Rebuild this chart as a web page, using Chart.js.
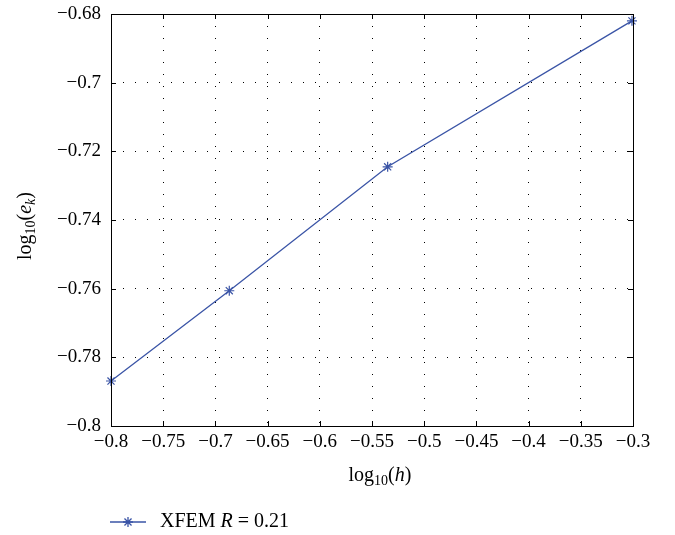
<!DOCTYPE html>
<html>
<head>
<meta charset="utf-8">
<script src="https://cdn.jsdelivr.net/npm/chart.js@4/dist/chart.umd.min.js"></script>
<style>
  html, body { margin:0; padding:0; background:#fff; }
  #wrap { width:675px; height:535px; }
</style>
</head>
<body>
<div id="wrap"><canvas id="myChart" width="675" height="535"></canvas></div>
<script>
// data
const logH = [-0.8, -0.6867, -0.535, -0.301];
const logE = [-0.7869, -0.7606, -0.7245, -0.682];
const xTicks = [-0.8, -0.75, -0.7, -0.65, -0.6, -0.55, -0.5, -0.45, -0.4, -0.35, -0.3];
const yTicks = [-0.8, -0.78, -0.76, -0.74, -0.72, -0.7, -0.68];
const seriesName = ['XFEM ', 'R', ' = 0.21'];

const blue = 'rgb(58,84,166)';
const serif = "'Liberation Serif', 'DejaVu Serif', serif";
const fmt = v => String(v).replace('-', '\u2212');

// draw mixed font text pieces: [text, italic, sub]
function drawPieces(ctx, pieces, x, y, align) {
    const big = 20, small = 14;
    let w = 0;
    pieces.forEach(p => {
        ctx.font = (p[1] ? 'italic ' : '') + (p[2] ? small : big) + 'px ' + serif;
        p.w = ctx.measureText(p[0]).width; w += p.w;
    });
    let cx = align == 'center' ? x - w/2 : x;
    pieces.forEach(p => {
        ctx.font = (p[1] ? 'italic ' : '') + (p[2] ? small : big) + 'px ' + serif;
        ctx.fillText(p[0], cx, p[2] ? y + 5 : y);
        cx += p.w;
    });
}

const framePlugin = {
    id: 'frame',
    afterDraw(chart) {
        const {ctx, chartArea: a, scales} = chart;
        ctx.save();
        ctx.strokeStyle = '#000';
        ctx.lineWidth = 1;
        ctx.strokeRect(Math.round(a.left)+0.5, Math.round(a.top)+0.5, Math.round(a.right-a.left), Math.round(a.bottom-a.top));
        // inward ticks
        ctx.beginPath();
        xTicks.forEach(v => {
            const px = Math.round(scales.x.getPixelForValue(v)) + 0.5;
            ctx.moveTo(px, a.bottom); ctx.lineTo(px, a.bottom - 5);
            ctx.moveTo(px, a.top); ctx.lineTo(px, a.top + 5);
        });
        yTicks.forEach(v => {
            const py = Math.round(scales.y.getPixelForValue(v)) + 0.5;
            ctx.moveTo(a.left, py); ctx.lineTo(a.left + 5, py);
            ctx.moveTo(a.right, py); ctx.lineTo(a.right - 5, py);
        });
        ctx.stroke();

        // axis titles
        ctx.fillStyle = '#000';
        ctx.textBaseline = 'middle';
        ctx.textAlign = 'left';
        drawPieces(ctx, [['log',0,0],['10',0,1],['(',0,0],['h',1,0],[')',0,0]], 380, 476, 'center');
        ctx.save();
        ctx.translate(26, 226);
        ctx.rotate(-Math.PI/2);
        drawPieces(ctx, [['log',0,0],['10',0,1],['(',0,0],['e',1,0],['k',1,1],[')',0,0]], 0, 0, 'center');
        ctx.restore();

        // legend
        ctx.strokeStyle = blue;
        ctx.lineWidth = 1.3;
        ctx.beginPath();
        ctx.moveTo(110, 522); ctx.lineTo(146, 522);
        ctx.stroke();
        Chart.helpers.drawPoint(ctx, {pointStyle:'star', radius:5, borderWidth:1.2}, 128, 522);
        ctx.fillStyle = '#000';
        drawPieces(ctx, [[seriesName[0],0,0],[seriesName[1],1,0],[seriesName[2],0,0]], 160, 522, 'left');
        ctx.restore();
    }
};

const ctx = document.getElementById('myChart').getContext('2d');
const myChart = new Chart(ctx, {
    type: 'line',
    data: {
        datasets: [{
            label: seriesName.join(''),
            data: logH.map((v, i) => ({x: v, y: logE[i]})),
            borderColor: blue,
            backgroundColor: blue,
            borderWidth: 1.3,
            pointStyle: 'star',
            pointRadius: 5,
            pointBorderWidth: 1.2,
            tension: 0,
            clip: false
        }]
    },
    options: {
        responsive: false,
        animation: false,
        layout: { padding: { top: 14, right: 42, left: 0, bottom: 0 } },
        plugins: { legend: { display: false }, tooltip: { enabled: false } },
        scales: {
            x: {
                type: 'linear', min: -0.8, max: -0.3,
                afterBuildTicks: s => { s.ticks = xTicks.map(v => ({value: v})); },
                afterFit: s => { s.height = 109; s.paddingLeft = 0; s.paddingRight = 0; },
                ticks: { callback: v => fmt(v), color: '#000', padding: 5, maxRotation: 0, autoSkip: false,
                         font: { family: serif, size: 19 } },
                grid: { color: '#000', lineWidth: 1, drawTicks: false },
                border: { display: false, dash: [1, 11] }
            },
            y: {
                type: 'linear', min: -0.8, max: -0.68,
                afterBuildTicks: s => { s.ticks = yTicks.map(v => ({value: v})); },
                afterFit: s => { s.width = 111; s.paddingTop = 0; s.paddingBottom = 0; },
                ticks: { callback: v => fmt(v), color: '#000', padding: 10, autoSkip: false,
                         font: { family: serif, size: 19 } },
                grid: { color: '#000', lineWidth: 1, drawTicks: false },
                border: { display: false, dash: [1, 11] }
            }
        }
    },
    plugins: [framePlugin]
});
</script>
</body>
</html>
